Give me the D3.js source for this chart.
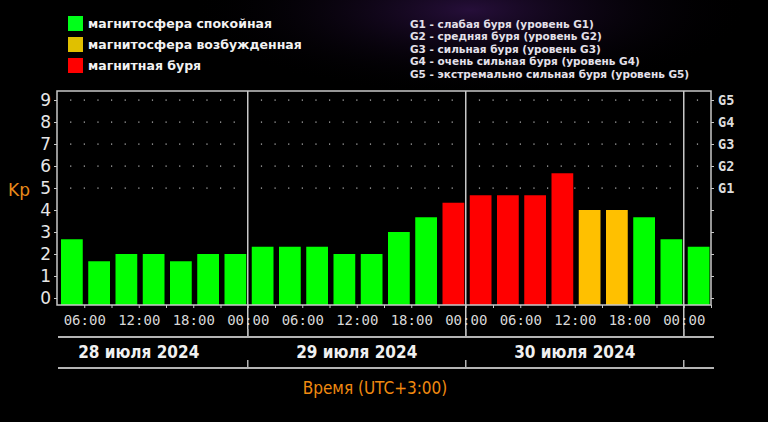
<!DOCTYPE html>
<html>
<head>
<meta charset="utf-8">
<script src="https://cdn.jsdelivr.net/npm/d3@7"></script>
<style>
  html, body { margin: 0; padding: 0; background: #000; }
  svg { display: block; }
</style>
</head>
<body>
<div id="chart"></div>
<script>
// Kp index, 3-hour slots from 28.07.2024 03:00 (UTC+3)
const kpValues = [2.67, 1.67, 2, 2, 1.67, 2, 2,
                  2.33, 2.33, 2.33, 2, 2, 3, 3.67, 4.33,
                  4.67, 4.67, 4.67, 5.67, 4, 4, 3.67, 2.67,
                  2.33];
const kpStatus = ['q','q','q','q','q','q','q',
                  'q','q','q','q','q','q','q','s',
                  's','s','s','s','a','a','q','q',
                  'q'];
const dayLabels = ['28 июля 2024', '29 июля 2024', '30 июля 2024'];
const legendItems = [
  {key: 'q', text: 'магнитосфера спокойная'},
  {key: 'a', text: 'магнитосфера возбужденная'},
  {key: 's', text: 'магнитная буря'}
];
const gLegend = ['G1 - слабая буря (уровень G1)',
                 'G2 - средняя буря (уровень G2)',
                 'G3 - сильная буря (уровень G3)',
                 'G4 - очень сильная буря (уровень G4)',
                 'G5 - экстремально сильная буря (уровень G5)'];
const yTicks = [0, 1, 2, 3, 4, 5, 6, 7, 8, 9];
const gTicks = ['G1', 'G2', 'G3', 'G4', 'G5'];

const Chart = function(){
  const W = 768, H = 422,
        L = 57, R = 711, TOP = 91, BOT = 305;
  const COLORS = {q: '#00ff00', a: '#ffc000', s: '#ff0000'};
  const LEGEND_COLORS = {q: '#00ff1a', a: '#e0c000', s: '#ff0000'};
  const HOUR = 3600 * 1000;
  const COND = 'DejaVu Sans Condensed, DejaVu Sans, sans-serif';

  const draw = () => {
    const svg = d3.select('#chart').append('svg')
      .attr('width', W).attr('height', H);

    const defs = svg.append('defs');
    const glow = defs.append('radialGradient').attr('id', 'glow')
      .attr('cx', 0.5).attr('cy', 0.5).attr('r', 0.5);
    glow.append('stop').attr('offset', '0%').attr('stop-color', '#2a1040').attr('stop-opacity', 0.9);
    glow.append('stop').attr('offset', '100%').attr('stop-color', '#000').attr('stop-opacity', 0);

    svg.append('rect').attr('width', W).attr('height', H).attr('fill', '#000');
    svg.append('ellipse').attr('cx', 470).attr('cy', 10).attr('rx', 280).attr('ry', 85)
      .attr('fill', 'url(#glow)');

    const t0 = new Date(2024, 6, 28, 3);
    const slot = i => new Date(t0.getTime() + i * 3 * HOUR);
    const x = d3.scaleTime().domain([t0, slot(kpValues.length)]).range([L, R]);
    const y = d3.scaleLinear().domain([0, 9]).range([298, 100]);

    // legend
    const lg = svg.append('g');
    legendItems.forEach((d, i) => {
      lg.append('rect').attr('x', 68).attr('y', 16 + i * 21).attr('width', 15).attr('height', 15)
        .attr('fill', LEGEND_COLORS[d.key]);
      lg.append('text').attr('x', 88).attr('y', 28 + i * 21)
        .attr('fill', '#f2f2f2').attr('font-family', 'DejaVu Sans, sans-serif')
        .attr('font-weight', 'bold').attr('font-size', 12.5).text(d.text);
    });
    gLegend.forEach((d, i) => {
      svg.append('text').attr('x', 410).attr('y', 27.5 + i * 12.5)
        .attr('fill', '#e4e0ea').attr('font-family', 'DejaVu Sans, sans-serif')
        .attr('font-weight', 'bold').attr('font-size', 10.5).text(d);
    });

    // dotted grid for G levels
    const dotTimes = d3.range(1, kpValues.length * 2).map(k => new Date(t0.getTime() + k * 1.5 * HOUR))
      .filter(t => !(t.getHours() === 0 && t.getMinutes() === 0));
    const grid = svg.append('g');
    [5, 6, 7, 8, 9].forEach(v => {
      grid.selectAll(null).data(dotTimes).enter().append('rect')
        .attr('x', d => x(d) - 0.5).attr('y', y(v) - 0.5)
        .attr('width', 1.2).attr('height', 1.2).attr('fill', '#bbb');
    });

    // bars
    svg.append('g').selectAll('rect').data(kpValues).enter().append('rect')
      .attr('x', (d, i) => x(slot(i)) + 4)
      .attr('width', (d, i) => x(slot(i + 1)) - x(slot(i)) - 5.5)
      .attr('y', d => y(d))
      .attr('height', d => BOT - y(d))
      .attr('fill', (d, i) => COLORS[kpStatus[i]]);

    // day boundaries
    const dayStarts = [1, 2, 3].map(k => new Date(2024, 6, 28 + k));
    svg.append('g').selectAll('line').data(dayStarts).enter().append('line')
      .attr('x1', d => x(d)).attr('x2', d => x(d))
      .attr('y1', TOP).attr('y2', 337)
      .attr('stroke', '#c8c8c8').attr('stroke-width', 1.5);

    // frame
    svg.append('rect').attr('x', L).attr('y', TOP).attr('width', R - L).attr('height', BOT - TOP)
      .attr('fill', 'none').attr('stroke', '#c8c8c8').attr('stroke-width', 1.5);

    // left axis
    const yAxis = d3.axisLeft(y).tickValues(yTicks).tickSize(3).tickPadding(3);
    const ya = svg.append('g').attr('transform', `translate(${L},0)`).call(yAxis);
    ya.select('.domain').remove();
    ya.selectAll('line').attr('stroke', '#c8c8c8');
    ya.selectAll('text').attr('fill', '#e6e6e6').attr('font-size', 17)
      .attr('font-family', 'DejaVu Sans, sans-serif');

    // right axis
    const rAxis = d3.axisRight(y).tickValues(yTicks).tickSize(3).tickPadding(4)
      .tickFormat(v => v >= 5 ? gTicks[v - 5] : '');
    const ra = svg.append('g').attr('transform', `translate(${R},0)`).call(rAxis);
    ra.select('.domain').remove();
    ra.selectAll('line').attr('stroke', '#c8c8c8');
    ra.selectAll('text').attr('fill', '#dcdcdc').attr('font-size', 13.5)
      .attr('font-weight', 'bold').attr('font-family', 'DejaVu Sans Mono, monospace');

    // bottom time axis
    const hourTicks = d3.range(1, kpValues.length + 1).map(slot);
    const xAxis = d3.axisBottom(x)
      .tickValues(hourTicks)
      .tickSize(3).tickPadding(7)
      .tickFormat(t => t.getHours() % 6 === 0 ? d3.timeFormat('%H:%M')(t) : '');
    const xa = svg.append('g').attr('transform', `translate(0,${BOT})`).call(xAxis);
    xa.select('.domain').remove();
    xa.selectAll('line').attr('stroke', '#c8c8c8');
    xa.selectAll('text').attr('fill', '#d8d8d8').attr('font-size', 14)
      .attr('font-family', 'DejaVu Sans Mono, monospace');

    // date rows
    [337, 368].forEach(yy => {
      svg.append('line').attr('x1', L + 1).attr('x2', R + 3).attr('y1', yy).attr('y2', yy)
        .attr('stroke', '#b4b4b4').attr('stroke-width', 2);
      svg.append('g').selectAll('line').data(dayStarts).enter().append('line')
        .attr('x1', d => x(d)).attr('x2', d => x(d))
        .attr('y1', yy - 8).attr('y2', yy)
        .attr('stroke', '#b4b4b4').attr('stroke-width', 1.5);
    });
    svg.append('g').selectAll('text').data(dayLabels).enter().append('text')
      .attr('x', (d, i) => x(new Date(2024, 6, 28 + i, 12)))
      .attr('y', 358)
      .attr('text-anchor', 'middle')
      .attr('fill', '#f0f0f0')
      .attr('font-family', COND)
      .attr('font-weight', 'bold').attr('font-size', 17)
      .text(d => d);

    svg.append('text').attr('x', 375).attr('y', 394).attr('text-anchor', 'middle')
      .attr('fill', '#f08a10')
      .attr('font-family', COND)
      .attr('font-size', 17).text('Время (UTC+3:00)');

    svg.append('text').attr('x', 8).attr('y', 196)
      .attr('fill', '#e88a1a').attr('font-family', 'DejaVu Sans, sans-serif')
      .attr('font-size', 17).text('Kp');
  };

  return { draw: draw };
}();
document.addEventListener('DOMContentLoaded', Chart.draw);
</script>
</body>
</html>
